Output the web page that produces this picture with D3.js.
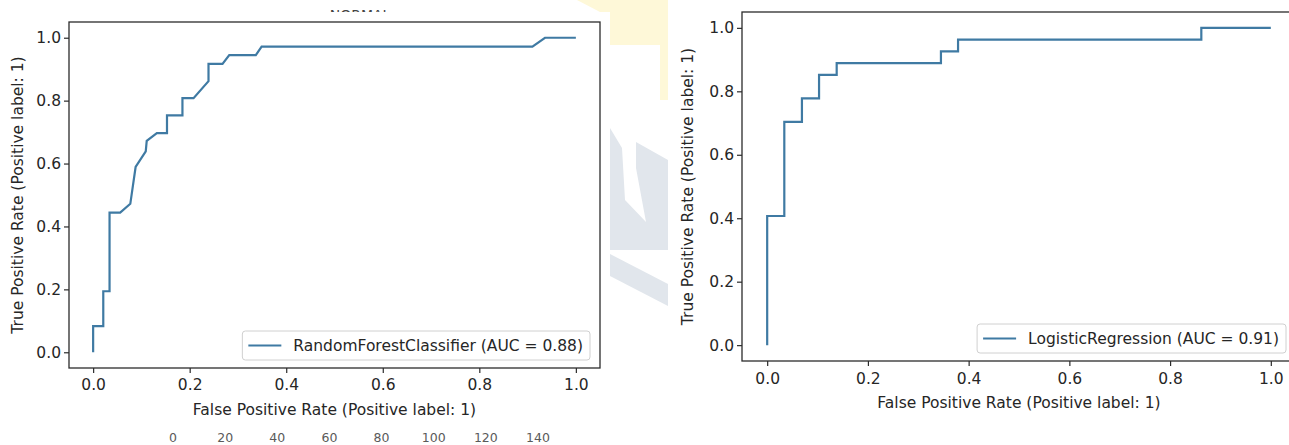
<!DOCTYPE html>
<html>
<head>
<meta charset="utf-8">
<script src="https://cdn.jsdelivr.net/npm/d3@7"></script>
<style>
  body { margin: 0; background: #fff; }
  svg { display: block; }
</style>
</head>
<body>
<svg id="chart" width="1289" height="445"></svg>
<script>
// ROC curve points (false positive rate, true positive rate)
let rfFpr = [0, 0, 0.021, 0.021, 0.034, 0.034, 0.056, 0.077, 0.088, 0.109, 0.111, 0.132, 0.153, 0.153, 0.185, 0.185, 0.208, 0.239, 0.239, 0.268, 0.282, 0.337, 0.349, 0.91, 0.936, 1.0];
let rfTpr = [0, 0.083, 0.083, 0.194, 0.194, 0.444, 0.444, 0.472, 0.589, 0.639, 0.672, 0.697, 0.697, 0.753, 0.753, 0.808, 0.808, 0.862, 0.917, 0.917, 0.945, 0.945, 0.972, 0.972, 1.0, 1.0];
let lrFpr = [0, 0, 0.034, 0.034, 0.069, 0.069, 0.103, 0.103, 0.138, 0.138, 0.345, 0.345, 0.379, 0.379, 0.862, 0.862, 1.0];
let lrTpr = [0, 0.407, 0.407, 0.704, 0.704, 0.778, 0.778, 0.852, 0.852, 0.889, 0.889, 0.926, 0.926, 0.963, 0.963, 1.0, 1.0];

let rocTicks = [0, 0.2, 0.4, 0.6, 0.8, 1.0];
let stripTicks = [0, 20, 40, 60, 80, 100, 120, 140];

let rfLabel = "RandomForestClassifier (AUC = 0.88)";
let lrLabel = "LogisticRegression (AUC = 0.91)";
let xTitle = "False Positive Rate (Positive label: 1)";
let yTitle = "True Positive Rate (Positive label: 1)";

let lineColor = "#3f7aa3";
let spineColor = "#2b2b2b";
let textColor = "#262626";
let font = "DejaVu Sans";
let fontSize = 15.5;

let svg = d3.select("#chart");

// background bits of the scanned page (watermark pieces)
svg.append("polygon")
  .attr("points", "577,0 668,0 668,100 660,100 660,45 610,45 600,12")
  .style("fill", "#fef8d8");
svg.append("polygon")
  .attr("points", "610,128 622,148 625,200 646,222 636,168 636,142 668,160 668,250 610,250")
  .style("fill", "#e1e6ec");
svg.append("polygon")
  .attr("points", "610,254 668,284 668,306 610,276")
  .style("fill", "#e1e6ec");
svg.append("text")
  .attr("x", 360)
  .attr("y", 20)
  .text("NORMAL")
  .style("font-family", font)
  .style("font-size", 14)
  .style("fill", "#444")
  .style("text-anchor", "middle");

// white figure panels
svg.append("rect").attr("x", 0).attr("y", 12).attr("width", 610).attr("height", 405).style("fill", "#fff");
svg.append("rect").attr("x", 668).attr("y", 3).attr("width", 621).attr("height", 442).style("fill", "#fff");

// strip of ticks from another chart below the left plot
let stripX = d3.scaleLinear().domain([0, 140]).range([173, 538]);
svg.selectAll(".strip")
  .data(stripTicks)
  .enter().append("text")
  .attr("class", "strip")
  .attr("x", d => stripX(d))
  .attr("y", 442)
  .text(d => d)
  .style("font-family", font)
  .style("font-size", 12.5)
  .style("fill", "#5a5a5a")
  .style("text-anchor", "middle");

function drawRoc(box, fpr, tpr, label) {
  let x = d3.scaleLinear().domain([-0.05, 1.05]).range([box.x0, box.x1]);
  let y = d3.scaleLinear().domain([-0.05, 1.05]).range([box.y1, box.y0]);

  let g = svg.append("g");

  // curve
  let pts = fpr.map((f, i) => [f, tpr[i]]);
  let line = d3.line().x(d => x(d[0])).y(d => y(d[1]));
  g.append("path")
    .attr("d", line(pts))
    .style("fill", "none")
    .style("stroke", lineColor)
    .style("stroke-width", 2.2)
    .style("stroke-linejoin", "miter");

  // spines
  g.append("rect")
    .attr("x", box.x0)
    .attr("y", box.y0)
    .attr("width", box.x1 - box.x0)
    .attr("height", box.y1 - box.y0)
    .style("fill", "none")
    .style("stroke", spineColor)
    .style("stroke-width", 1.3);

  // axes
  let xAxis = g.append("g")
    .attr("transform", "translate(0," + box.y1 + ")")
    .call(d3.axisBottom(x).tickValues(rocTicks).tickFormat(d3.format(".1f")).tickSize(5).tickPadding(box.xPad).tickSizeOuter(0));
  let yAxis = g.append("g")
    .attr("transform", "translate(" + box.x0 + ",0)")
    .call(d3.axisLeft(y).tickValues(rocTicks).tickFormat(d3.format(".1f")).tickSize(5).tickPadding(3).tickSizeOuter(0));
  for (let ax of [xAxis, yAxis]) {
    ax.select(".domain").remove();
    ax.selectAll("line").style("stroke", spineColor).style("stroke-width", 1.2);
    ax.selectAll("text")
      .style("font-family", font)
      .style("font-size", fontSize)
      .style("fill", textColor);
  }

  // axis titles
  g.append("text")
    .attr("x", (box.x0 + box.x1) / 2)
    .attr("y", box.xTitleY)
    .text(xTitle)
    .style("font-family", font)
    .style("font-size", fontSize)
    .style("fill", textColor)
    .style("text-anchor", "middle");
  g.append("text")
    .attr("transform", "translate(" + box.yTitleX + "," + ((box.y0 + box.y1) / 2) + ")rotate(-90)")
    .text(yTitle)
    .style("font-family", font)
    .style("font-size", fontSize)
    .style("fill", textColor)
    .style("text-anchor", "middle");

  // legend, lower right
  let lg = g.append("g");
  let legRect = lg.append("rect")
    .attr("rx", 3)
    .style("fill", "#fff")
    .style("fill-opacity", 0.85)
    .style("stroke", "#d0d0d0")
    .style("stroke-width", 1);
  let legSwatch = lg.append("line")
    .style("stroke", lineColor)
    .style("stroke-width", 2.2);
  let legText = lg.append("text")
    .text(label)
    .style("font-family", font)
    .style("font-size", fontSize)
    .style("fill", textColor);
  let tw = legText.node().getComputedTextLength();
  let legW = 6 + 33 + 12 + tw + 7;
  let legH = 29;
  let lx = box.x1 - 10 - legW;
  let ly = box.y1 - 8 - legH;
  legRect.attr("x", lx).attr("y", ly).attr("width", legW).attr("height", legH);
  legSwatch.attr("x1", lx + 6).attr("x2", lx + 39).attr("y1", ly + legH / 2).attr("y2", ly + legH / 2);
  legText.attr("x", lx + 51).attr("y", ly + legH / 2 + 5.5);
}

drawRoc({x0: 69, x1: 600, y0: 22, y1: 368, xPad: 6, xTitleY: 415, yTitleX: 23}, rfFpr, rfTpr, rfLabel);
drawRoc({x0: 742, x1: 1296, y0: 12, y1: 361, xPad: 7, xTitleY: 408, yTitleX: 693}, lrFpr, lrTpr, lrLabel);
</script>
</body>
</html>
